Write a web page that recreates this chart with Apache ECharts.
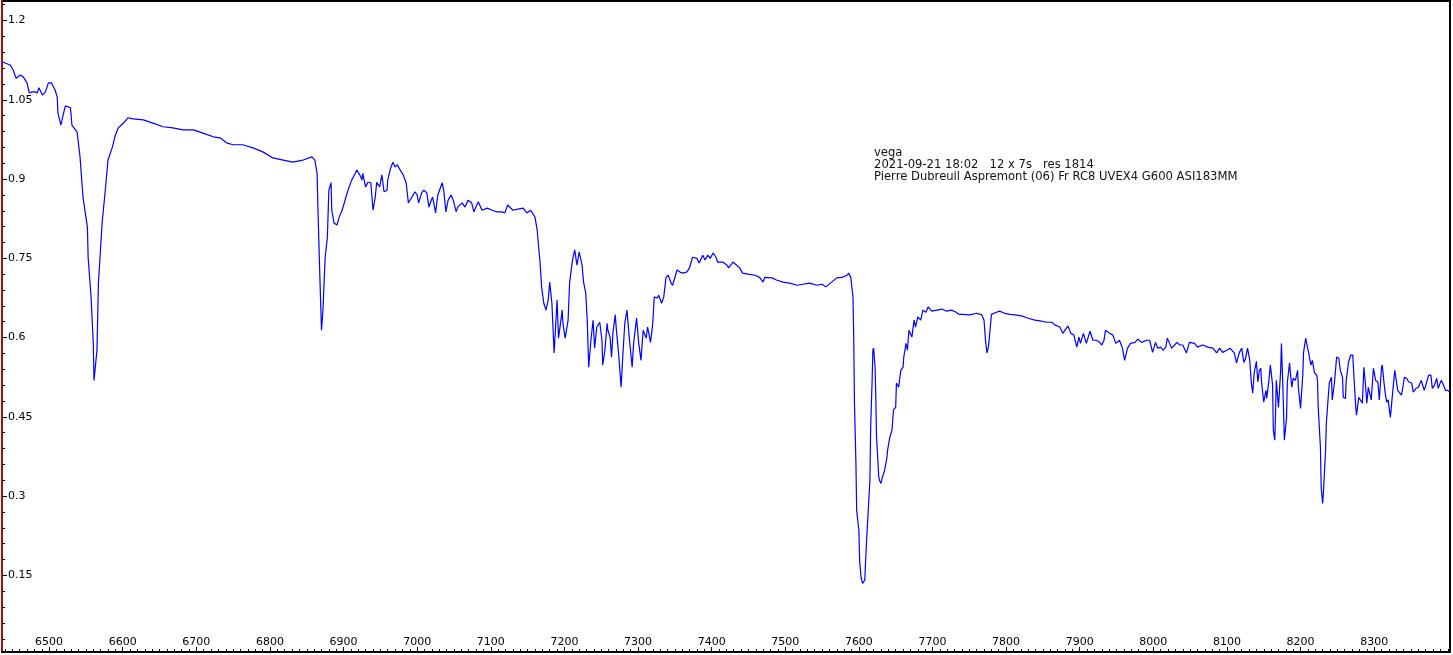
<!DOCTYPE html>
<html><head><meta charset="utf-8">
<script src="https://cdn.jsdelivr.net/npm/echarts@6/dist/echarts.min.js"></script>
<style>html,body{margin:0;padding:0;background:#fff}#c{width:1453px;height:655px}</style>
</head><body><div id="c"></div>
<script>
const wavelength = [
6436,6447,6451,6455,6461,6465,6470,6473,6477,6481,6484,6486,6491,6495,6499,6503,6508,6511,6512,6516,
6519,6522,6526,6529,6531,6538,6542,6546,6552,6553,6557,6560,6561,6565,6567,6572,6576,6580,6586,6590,
6594,6601,6607,6614,6628,6641,6655,6668,6682,6696,6709,6723,6732,6742,6750,6763,6777,6791,6804,6818,
6831,6845,6857,6861,6864,6865,6867,6870,6872,6875,6878,6880,6883,6884,6887,6891,6894,6898,6902,6906,
6911,6916,6918,6922,6925,6926,6930,6933,6937,6940,6943,6945,6949,6952,6955,6959,6960,6964,6967,6970,
6973,6977,6981,6985,6988,6993,6997,7000,7002,7006,7009,7013,7016,7019,7021,7025,7028,7034,7036,7039,
7042,7046,7049,7053,7055,7061,7065,7069,7074,7077,7083,7088,7095,7102,7108,7115,7119,7123,7130,7137,
7144,7149,7154,7160,7163,7165,7167,7169,7172,7175,7178,7180,7183,7186,7188,7190,7192,7197,7198,7201,
7205,7207,7211,7214,7217,7220,7224,7226,7229,7231,7233,7236,7239,7241,7244,7248,7251,7252,7255,7258,
7259,7262,7264,7266,7269,7271,7274,7277,7279,7282,7285,7288,7292,7294,7298,7301,7304,7307,7311,7313,
7317,7320,7322,7326,7328,7332,7335,7338,7341,7345,7347,7353,7357,7361,7366,7370,7374,7380,7383,7388,
7391,7395,7398,7402,7406,7408,7415,7421,7423,7429,7434,7438,7442,7449,7459,7465,7470,7472,7482,7488,
7497,7506,7516,7524,7533,7543,7550,7555,7563,7570,7577,7584,7586,7589,7592,7593,7594,7596,7597,7600,
7601,7603,7605,7608,7609,7611,7613,7615,7616,7618,7619,7620,7622,7623,7624,7626,7627,7628,7630,7632,
7635,7638,7639,7642,7645,7647,7650,7651,7654,7657,7660,7661,7664,7666,7668,7672,7675,7677,7680,7684,
7687,7691,7694,7699,7706,7713,7719,7726,7732,7736,7741,7751,7760,7767,7770,7772,7774,7776,7779,7780,
7787,7791,7798,7805,7812,7821,7829,7839,7848,7855,7862,7866,7873,7877,7881,7884,7888,7892,7896,7899,
7901,7905,7909,7914,7918,7923,7927,7930,7933,7935,7941,7945,7949,7954,7958,7961,7965,7969,7975,7979,
7984,7991,7995,7999,8003,8006,8010,8013,8017,8019,8025,8029,8032,8036,8040,8045,8049,8056,8060,8067,
8074,8081,8086,8090,8094,8100,8104,8110,8113,8117,8120,8123,8125,8128,8131,8133,8135,8137,8140,8142,
8144,8146,8147,8150,8153,8154,8157,8159,8162,8163,8165,8166,8167,8170,8173,8174,8176,8178,8181,8182,
8185,8188,8190,8193,8196,8197,8200,8203,8204,8207,8208,8211,8214,8216,8219,8222,8223,8224,8227,8228,
8230,8231,8234,8235,8237,8239,8242,8243,8246,8249,8252,8254,8257,8258,8261,8262,8265,8268,8271,8272,
8275,8276,8279,8281,8284,8286,8288,8290,8292,8296,8299,8302,8305,8307,8310,8311,8313,8315,8317,8319,
8322,8325,8328,8330,8332,8334,8337,8339,8341,8344,8347,8351,8353,8357,8360,8364,8366,8368,8371,8374,
8377,8379,8382,8385,8387,8391,8393,8397,8400,8403
];
const flux = [
1.122,1.116,1.107,1.091,1.097,1.093,1.082,1.063,1.065,1.065,1.063,1.073,1.059,1.065,1.082,1.082,1.069,1.055,1.025,1.002,
1.021,1.038,1.037,1.035,1.002,0.989,0.942,0.866,0.809,0.752,0.677,0.589,0.519,0.576,0.703,0.817,0.874,0.936,0.961,0.983,
0.997,1.006,1.016,1.014,1.012,1.006,0.999,0.997,0.993,0.993,0.987,0.980,0.978,0.968,0.965,0.965,0.959,0.951,0.940,0.936,
0.932,0.936,0.942,0.936,0.911,0.855,0.752,0.614,0.652,0.752,0.790,0.879,0.893,0.841,0.817,0.813,0.828,0.841,0.860,0.879,
0.898,0.911,0.917,0.908,0.898,0.911,0.885,0.894,0.893,0.841,0.866,0.894,0.885,0.908,0.876,0.879,0.898,0.921,0.932,0.923,
0.927,0.917,0.908,0.893,0.855,0.866,0.876,0.870,0.855,0.874,0.879,0.874,0.847,0.860,0.866,0.836,0.870,0.893,0.879,0.838,
0.860,0.870,0.860,0.838,0.847,0.855,0.847,0.860,0.855,0.838,0.857,0.841,0.845,0.841,0.838,0.838,0.836,0.851,0.841,0.843,
0.845,0.836,0.841,0.828,0.804,0.771,0.741,0.696,0.665,0.652,0.671,0.705,0.665,0.571,0.620,0.671,0.599,0.652,0.627,0.599,
0.633,0.703,0.747,0.766,0.737,0.762,0.737,0.705,0.684,0.633,0.544,0.595,0.633,0.580,0.620,0.629,0.595,0.548,0.576,0.627,
0.614,0.601,0.563,0.610,0.643,0.608,0.563,0.506,0.557,0.627,0.652,0.601,0.544,0.589,0.637,0.589,0.557,0.614,0.599,0.620,
0.591,0.627,0.677,0.675,0.680,0.665,0.677,0.714,0.718,0.703,0.699,0.728,0.724,0.722,0.724,0.732,0.752,0.750,0.741,0.756,
0.747,0.756,0.750,0.760,0.752,0.743,0.743,0.737,0.732,0.743,0.737,0.732,0.722,0.720,0.718,0.714,0.705,0.714,0.713,0.709,
0.705,0.703,0.699,0.701,0.703,0.699,0.701,0.696,0.705,0.713,0.714,0.718,0.722,0.714,0.677,0.601,0.476,0.362,0.273,0.235,
0.178,0.146,0.135,0.141,0.173,0.230,0.279,0.330,0.430,0.519,0.576,0.580,0.544,0.487,0.411,0.362,0.336,0.330,0.324,0.336,
0.349,0.372,0.387,0.411,0.425,0.463,0.468,0.514,0.506,0.538,0.544,0.563,0.589,0.576,0.614,0.601,0.633,0.620,0.639,0.633,
0.652,0.648,0.658,0.650,0.652,0.654,0.650,0.652,0.648,0.644,0.644,0.643,0.646,0.643,0.633,0.595,0.571,0.582,0.627,0.644,
0.648,0.650,0.646,0.644,0.643,0.641,0.637,0.633,0.631,0.629,0.629,0.624,0.620,0.608,0.616,0.622,0.608,0.605,0.582,0.601,
0.589,0.608,0.589,0.612,0.595,0.595,0.591,0.586,0.595,0.614,0.608,0.605,0.589,0.595,0.580,0.557,0.580,0.589,0.591,0.597,
0.591,0.595,0.595,0.572,0.591,0.580,0.582,0.576,0.582,0.599,0.580,0.586,0.591,0.586,0.586,0.571,0.591,0.589,0.582,0.586,
0.582,0.580,0.571,0.580,0.572,0.576,0.580,0.571,0.552,0.572,0.580,0.553,0.559,0.580,0.557,0.516,0.495,0.533,0.555,0.516,
0.538,0.542,0.516,0.478,0.500,0.485,0.519,0.548,0.510,0.425,0.406,0.457,0.519,0.468,0.538,0.589,0.506,0.406,0.449,0.514,
0.552,0.506,0.523,0.519,0.538,0.506,0.466,0.529,0.571,0.599,0.591,0.571,0.548,0.557,0.533,0.529,0.519,0.468,0.392,0.317,
0.286,0.305,0.387,0.438,0.476,0.514,0.525,0.482,0.514,0.563,0.561,0.538,0.525,0.487,0.485,0.519,0.552,0.567,0.567,0.538,
0.468,0.453,0.487,0.485,0.476,0.544,0.514,0.476,0.506,0.482,0.542,0.519,0.516,0.482,0.544,0.548,0.519,0.495,0.478,0.482,
0.449,0.495,0.538,0.535,0.500,0.497,0.491,0.506,0.525,0.523,0.516,0.514,0.497,0.504,0.506,0.519,0.516,0.500,0.514,0.529,
0.529,0.504,0.510,0.523,0.504,0.519,0.514,0.500,0.500,0.497
];
const xTickValues = [6500,6600,6700,6800,6900,7000,7100,7200,7300,7400,7500,7600,7700,7800,7900,8000,8100,8200,8300];
const xTickLabels = ['6500','6600','6700','6800','6900','7000','7100','7200','7300','7400','7500','7600','7700','7800','7900','8000','8100','8200','8300'];
const yTickValues = [0.15,0.3,0.45,0.6,0.75,0.9,1.05,1.2];
const yTickLabels = ['0.15','0.3','0.45','0.6','0.75','0.9','1.05','1.2'];
const annotation = ['vega','2021-09-21 18:02   12 x 7s   res 1814','Pierre Dubreuil Aspremont (06) Fr RC8 UVEX4 G600 ASI183MM'];

const xMinor = []; for (let v = 6440; v <= 8400; v += 10) xMinor.push(v);
const yMinor = []; for (let i = 1; i <= 41; i++) yMinor.push(+(i * 0.03).toFixed(2));

const X_MIN = 6436, X_MAX = 8403, Y_MIN = 0.005, Y_MAX = 1.237;
const FONT = 'DejaVu Sans';

const chart = echarts.init(document.getElementById('c'), null, {renderer: 'canvas'});
chart.setOption({
  animation: false,
  backgroundColor: '#fff',
  grid: {left: 2, right: 3, top: 1, bottom: 3, show: true, borderColor: '#000', borderWidth: 2, containLabel: false, outerBoundsMode: 'none'},
  xAxis: [
    {type: 'value', min: X_MIN, max: X_MAX, position: 'bottom',
     axisLine: {show: true, lineStyle: {color: '#000', width: 2}},
     axisTick: {show: true, inside: true, length: 5, customValues: xTickValues, lineStyle: {color: '#000', width: 1}},
     axisLabel: {show: true, inside: true, margin: 4, customValues: xTickValues, color: '#000', fontFamily: FONT, fontSize: 11,
       formatter: v => xTickLabels[xTickValues.indexOf(v)]},
     splitLine: {show: false}},
    {type: 'value', min: X_MIN, max: X_MAX, position: 'bottom',
     axisLine: {show: false},
     axisTick: {show: true, inside: true, length: 3, customValues: xMinor, lineStyle: {color: '#000', width: 1}},
     axisLabel: {show: false}, splitLine: {show: false}}
  ],
  yAxis: [
    {type: 'value', min: Y_MIN, max: Y_MAX, position: 'left',
     axisLine: {show: true, lineStyle: {color: '#9b1414', width: 2}},
     axisTick: {show: true, inside: true, length: 5, customValues: yTickValues, lineStyle: {color: '#000', width: 1}},
     axisLabel: {show: true, inside: true, margin: 6, customValues: yTickValues, color: '#000', fontFamily: FONT, fontSize: 11,
       formatter: v => yTickLabels[yTickValues.indexOf(v)]},
     splitLine: {show: false}},
    {type: 'value', min: Y_MIN, max: Y_MAX, position: 'left',
     axisLine: {show: false},
     axisTick: {show: true, inside: true, length: 3, customValues: yMinor, lineStyle: {color: '#000', width: 1}},
     axisLabel: {show: false}, splitLine: {show: false}}
  ],
  graphic: [{
    type: 'text', left: 874, top: 147, silent: true,
    style: {text: annotation.join('\n'), fill: '#111', font: '11.6px "DejaVu Sans"', lineHeight: 12}
  }],
  series: [{
    type: 'line', xAxisIndex: 0, yAxisIndex: 0, showSymbol: false, symbol: 'none',
    lineStyle: {color: '#0000ff', width: 1.2}, silent: true,
    data: wavelength.map((w, i) => [w, flux[i]])
  }]
});
</script></body></html>
